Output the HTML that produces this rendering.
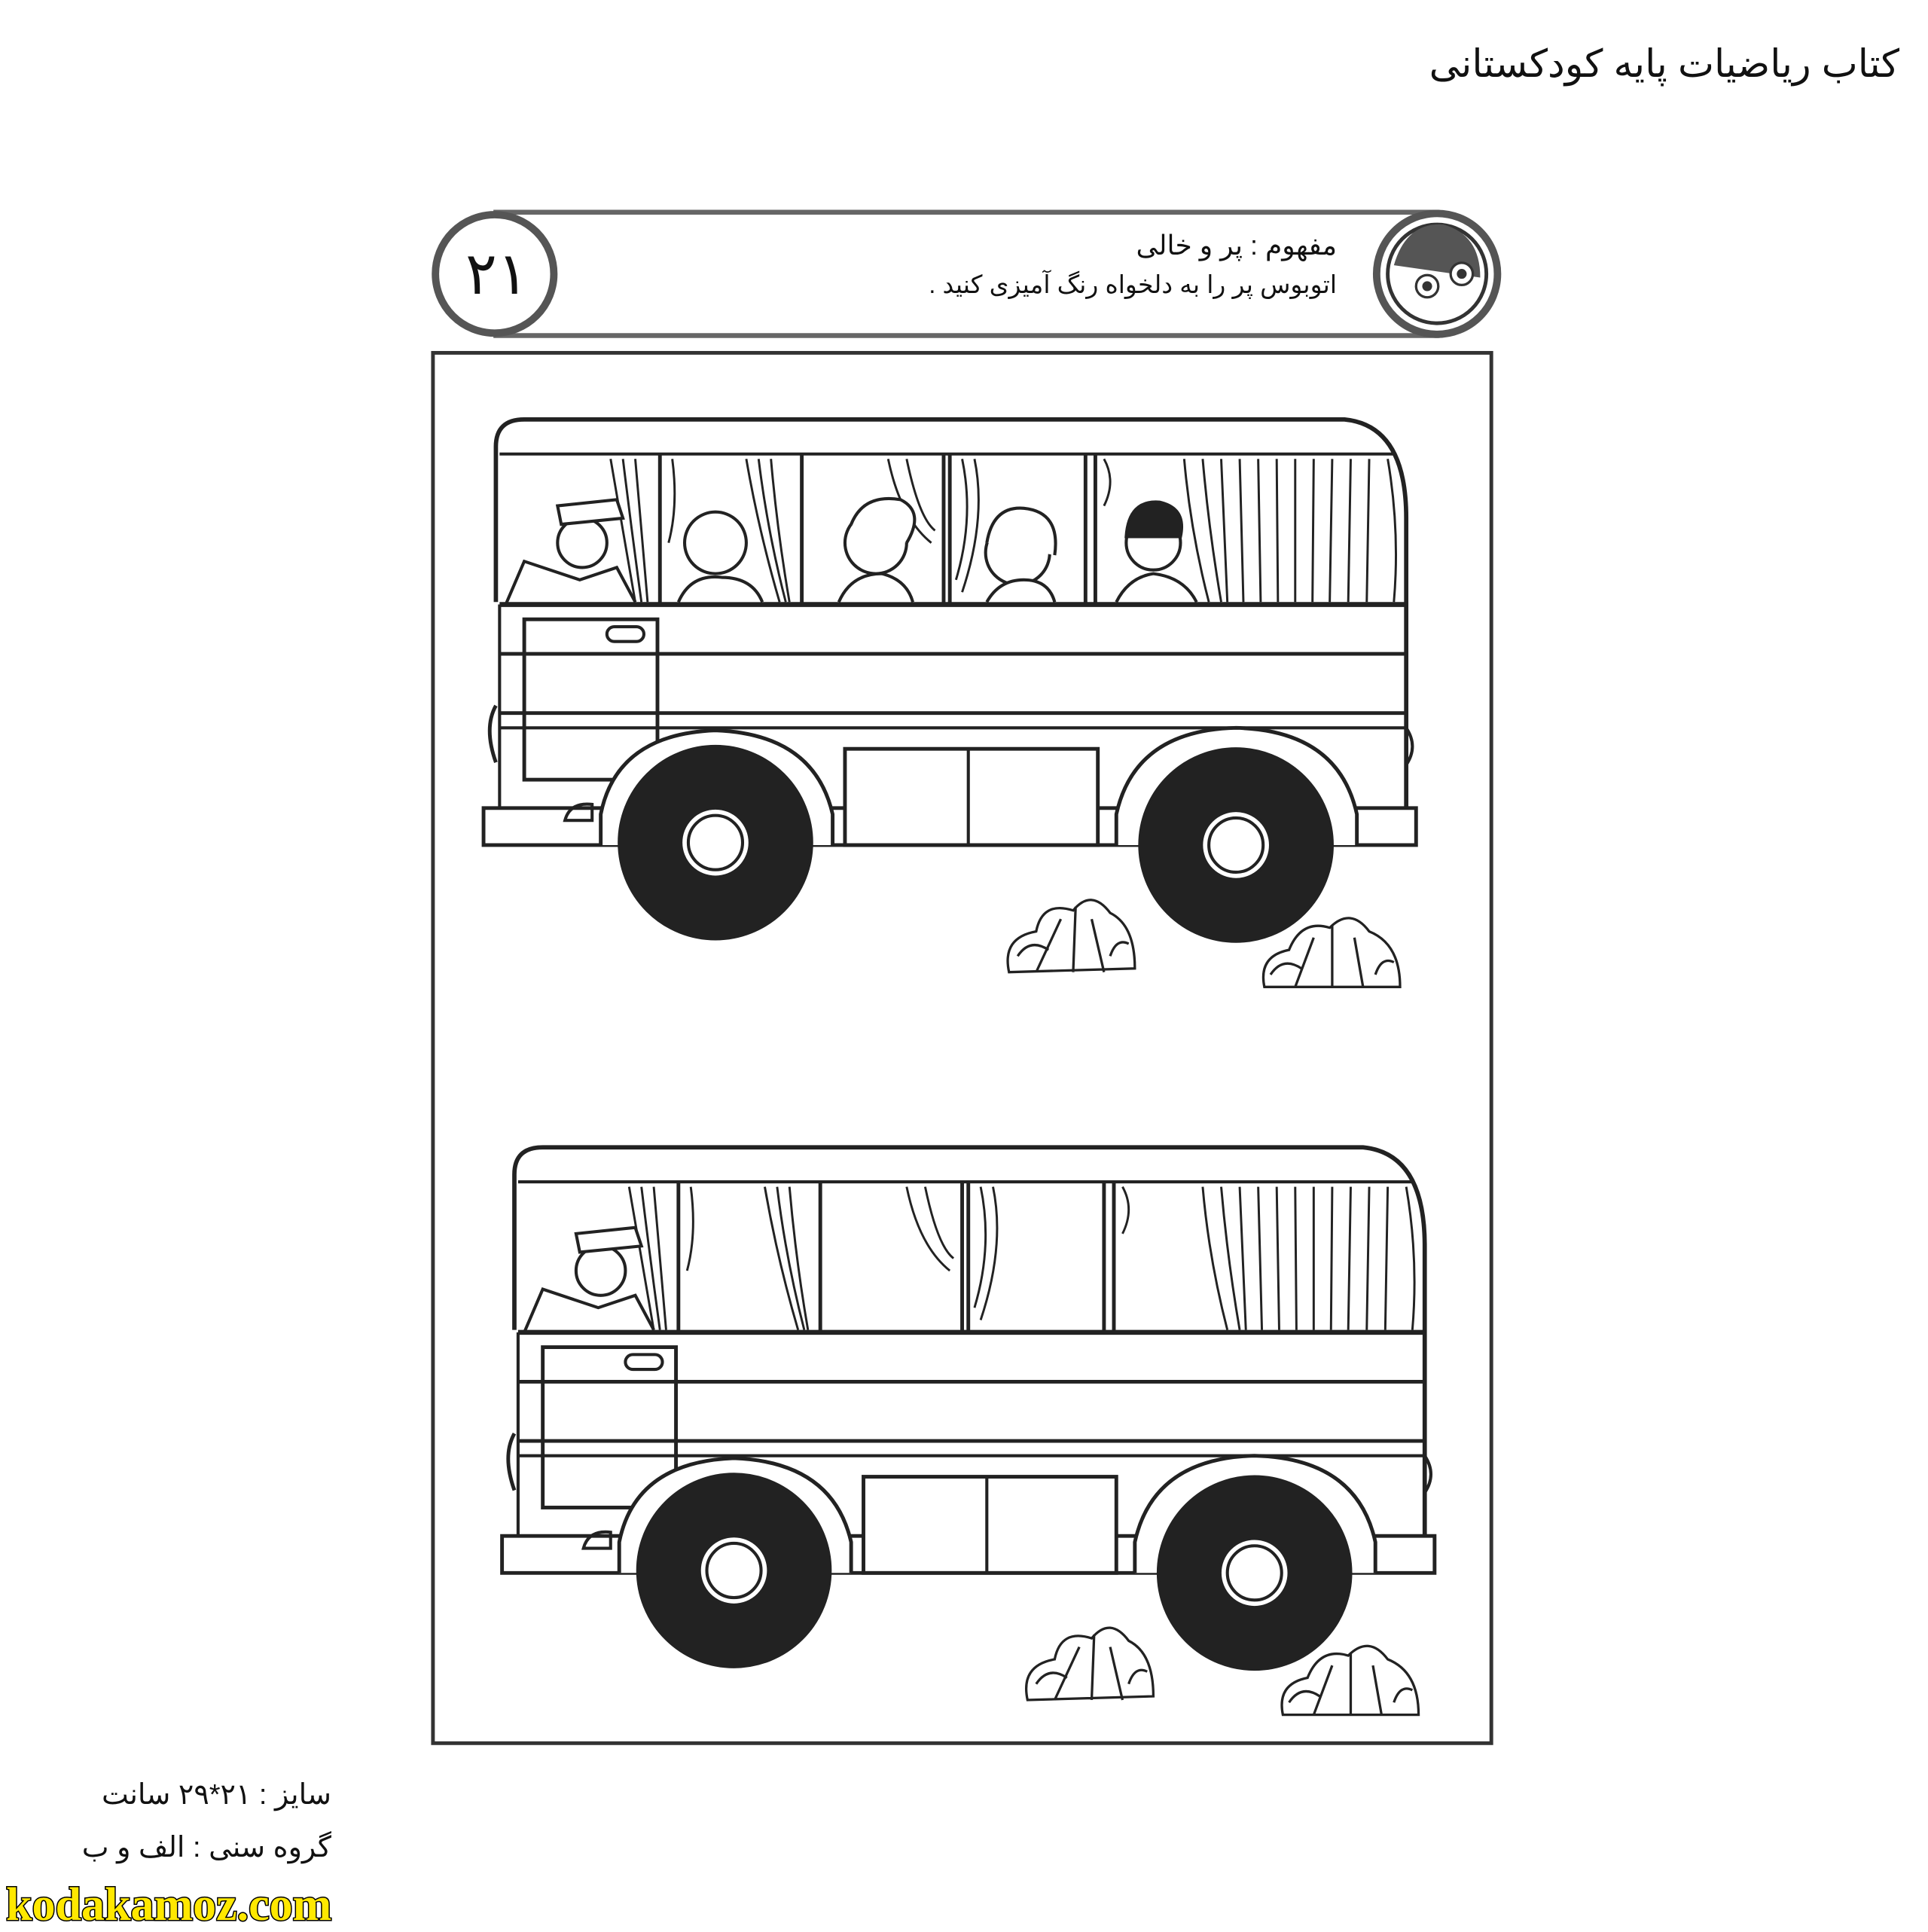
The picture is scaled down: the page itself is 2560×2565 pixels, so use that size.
<!DOCTYPE html>
<html><head><meta charset="utf-8"><style>
html,body{margin:0;padding:0;background:#fff;}
body{width:2560px;height:2560px;position:relative;overflow:hidden;}
svg{position:absolute;left:0;top:0;}
.t{position:absolute;font-family:"Liberation Sans","DejaVu Sans",sans-serif;direction:rtl;white-space:nowrap;color:#111;}
</style></head><body>
<svg width="2560" height="2560" viewBox="0 0 1563 1563" xmlns="http://www.w3.org/2000/svg">
<defs>
<g id="bus" stroke="#222" fill="none" stroke-width="2.5">
 <path d="M402,488 L402,362 Q402,340 425,340 L1090,340 Q1140,345 1140,420 L1140,655" stroke-width="3.5"/>
 <line x1="405" y1="368" x2="1130" y2="368"/>
 <line x1="405" y1="490" x2="1140" y2="490" stroke-width="4"/>
 <line x1="405" y1="530" x2="1140" y2="530" stroke-width="3"/>
 <line x1="405" y1="578" x2="1140" y2="578" stroke-width="3"/>
 <line x1="405" y1="590" x2="1140" y2="590"/>
 <line x1="405" y1="490" x2="405" y2="655"/>
 <g stroke-width="3"><line x1="535" y1="368" x2="535" y2="490"/><line x1="650" y1="368" x2="650" y2="490"/><line x1="765" y1="368" x2="765" y2="490"/><line x1="770" y1="368" x2="770" y2="490"/><line x1="880" y1="368" x2="880" y2="490"/><line x1="888" y1="368" x2="888" y2="490"/></g>
 <g stroke-width="1.8">
  <path d="M495,372 Q505,430 515,488 M505,372 Q512,430 520,488 M515,372 Q520,430 525,488"/>
  <path d="M545,372 Q550,410 542,440 M605,372 Q615,430 632,488 M615,372 Q622,430 637,488 M625,372 Q630,430 640,488"/>
  <path d="M720,372 Q730,420 755,440 M735,372 Q745,420 758,430 M780,372 Q790,420 775,470 M790,372 Q800,420 780,480"/>
  <path d="M895,372 Q905,390 895,410 M960,372 Q965,430 980,488 M975,372 Q980,430 990,488 M990,372 L995,488 M1005,372 L1008,488 M1020,372 L1022,488 M1035,372 L1036,488 M1050,372 L1050,488 M1065,372 L1064,488 M1080,372 L1078,488 M1095,372 L1093,488 M1110,372 L1108,488 M1125,372 Q1135,430 1130,488"/>
 </g>
 <rect x="425" y="502" width="108" height="130" stroke-width="3"/>
 <rect x="492" y="508" width="30" height="12" rx="6"/>
 <path d="M402,572 Q392,590 402,618" stroke-width="3"/>
 <path d="M392,655 L392,685 L1148,685 L1148,655 Z" stroke-width="3"/>
 <path d="M1140,590 Q1150,605 1140,620"/>
 <path d="M458,665 Q462,650 480,652 L480,665 Z"/>
 <path d="M487,685 L487,660 Q500,595 580,592 Q660,595 675,660 L675,685" fill="#fff" stroke-width="3"/>
 <path d="M905,685 L905,660 Q920,592 1002,590 Q1085,592 1100,660 L1100,685" fill="#fff" stroke-width="3"/>
 <rect x="685" y="607" width="205" height="78" fill="#fff" stroke-width="3"/>
 <line x1="785" y1="607" x2="785" y2="685"/>
 <circle cx="580" cy="683" r="78" fill="#222"/>
 <circle cx="580" cy="683" r="28" fill="#fff"/>
 <circle cx="580" cy="683" r="22"/>
 <circle cx="1002" cy="685" r="78" fill="#222"/>
 <circle cx="1002" cy="685" r="28" fill="#fff"/>
 <circle cx="1002" cy="685" r="22"/>
 <g stroke-width="2">
  <path d="M818,788 Q812,760 840,755 Q845,730 870,738 Q885,720 900,740 Q920,750 920,785 Z M840,788 L860,745 M870,788 L872,735 M895,788 L885,745 M825,775 Q835,760 850,770 M900,775 Q905,760 915,765"/>
  <path d="M1025,800 Q1020,775 1045,770 Q1055,745 1078,752 Q1095,735 1110,755 Q1135,765 1135,800 Z M1050,800 L1065,760 M1080,800 L1080,750 M1105,800 L1098,760 M1030,790 Q1040,775 1055,785 M1115,790 Q1120,775 1130,780"/>
 </g>
 <g stroke-width="2.5">
  <circle cx="472" cy="440" r="20" fill="#fff"/><path d="M452,410 L500,405 L505,420 L455,425 Z" fill="#fff"/>
  <path d="M410,490 L425,455 L470,470 L500,460 L515,488"/>
 </g>
</g>
<g id="pax" stroke="#222" fill="#fff" stroke-width="2.5">
 <circle cx="580" cy="440" r="25"/><path d="M550,488 Q560,465 585,468 Q610,468 618,488"/>
 <circle cx="710" cy="440" r="25"/><path d="M690,425 Q700,400 730,405 Q750,415 735,440" fill="#fff"/><path d="M680,488 Q690,465 715,465 Q735,470 740,488"/>
 <circle cx="825" cy="448" r="26"/><path d="M800,440 Q805,410 830,412 Q860,415 855,450"/><path d="M800,488 Q810,470 830,470 Q850,470 855,488"/>
 <circle cx="935" cy="440" r="22"/><path d="M913,435 Q915,405 940,407 Q962,412 957,435 Z" fill="#222"/><path d="M905,488 Q915,468 935,465 Q960,468 970,488"/>
</g>
</defs>
<path d="M400,172 L1165,172 L1165,272 L400,272" fill="none" stroke="#666" stroke-width="4"/>
<circle cx="401" cy="222" r="48" fill="#fff" stroke="#555" stroke-width="6"/>
<circle cx="1165" cy="222" r="49" fill="#fff" stroke="#555" stroke-width="6"/>
<circle cx="1165" cy="222" r="40" fill="#fff" stroke="#333" stroke-width="3"/>
<path d="M1130,215 Q1140,180 1170,182 Q1200,190 1200,225" fill="#555"/>
<circle cx="1157" cy="232" r="9" fill="#fff" stroke="#333" stroke-width="2"/><circle cx="1157" cy="232" r="4" fill="#333"/>
<circle cx="1185" cy="222" r="9" fill="#fff" stroke="#333" stroke-width="2"/><circle cx="1185" cy="222" r="4" fill="#333"/>
<rect x="351" y="286" width="858" height="1127" fill="none" stroke="#333" stroke-width="3"/>
<use href="#bus"/>
<use href="#pax"/>
<g transform="translate(15,590)"><use href="#bus"/></g>
</svg>
<div class="t" style="right:38px;top:55px;font-size:51px;">کتاب ریاضیات پایه کودکستانی</div>
<div class="t" style="left:618px;top:318px;width:80px;text-align:center;font-size:78px;direction:ltr;">۲۱</div>
<div class="t" style="right:785px;top:305px;font-size:36px;">مفهوم : پر و خالی</div>
<div class="t" style="right:785px;top:358px;font-size:33px;">اتوبوس پر را به دلخواه رنگ آمیزی کنید .</div>
<div class="t" style="right:2120px;top:2360px;font-size:38px;">سایز : ۲۱*۲۹ سانت</div>
<div class="t" style="right:2120px;top:2430px;font-size:38px;">گروه سنی : الف و ب</div>
<div class="t" style="left:8px;top:2494px;font-size:62px;font-weight:bold;font-family:'Liberation Serif',serif;direction:ltr;color:#ffe800;-webkit-text-stroke:3px #000;paint-order:stroke fill;">kodakamoz.com</div>
</body></html>
